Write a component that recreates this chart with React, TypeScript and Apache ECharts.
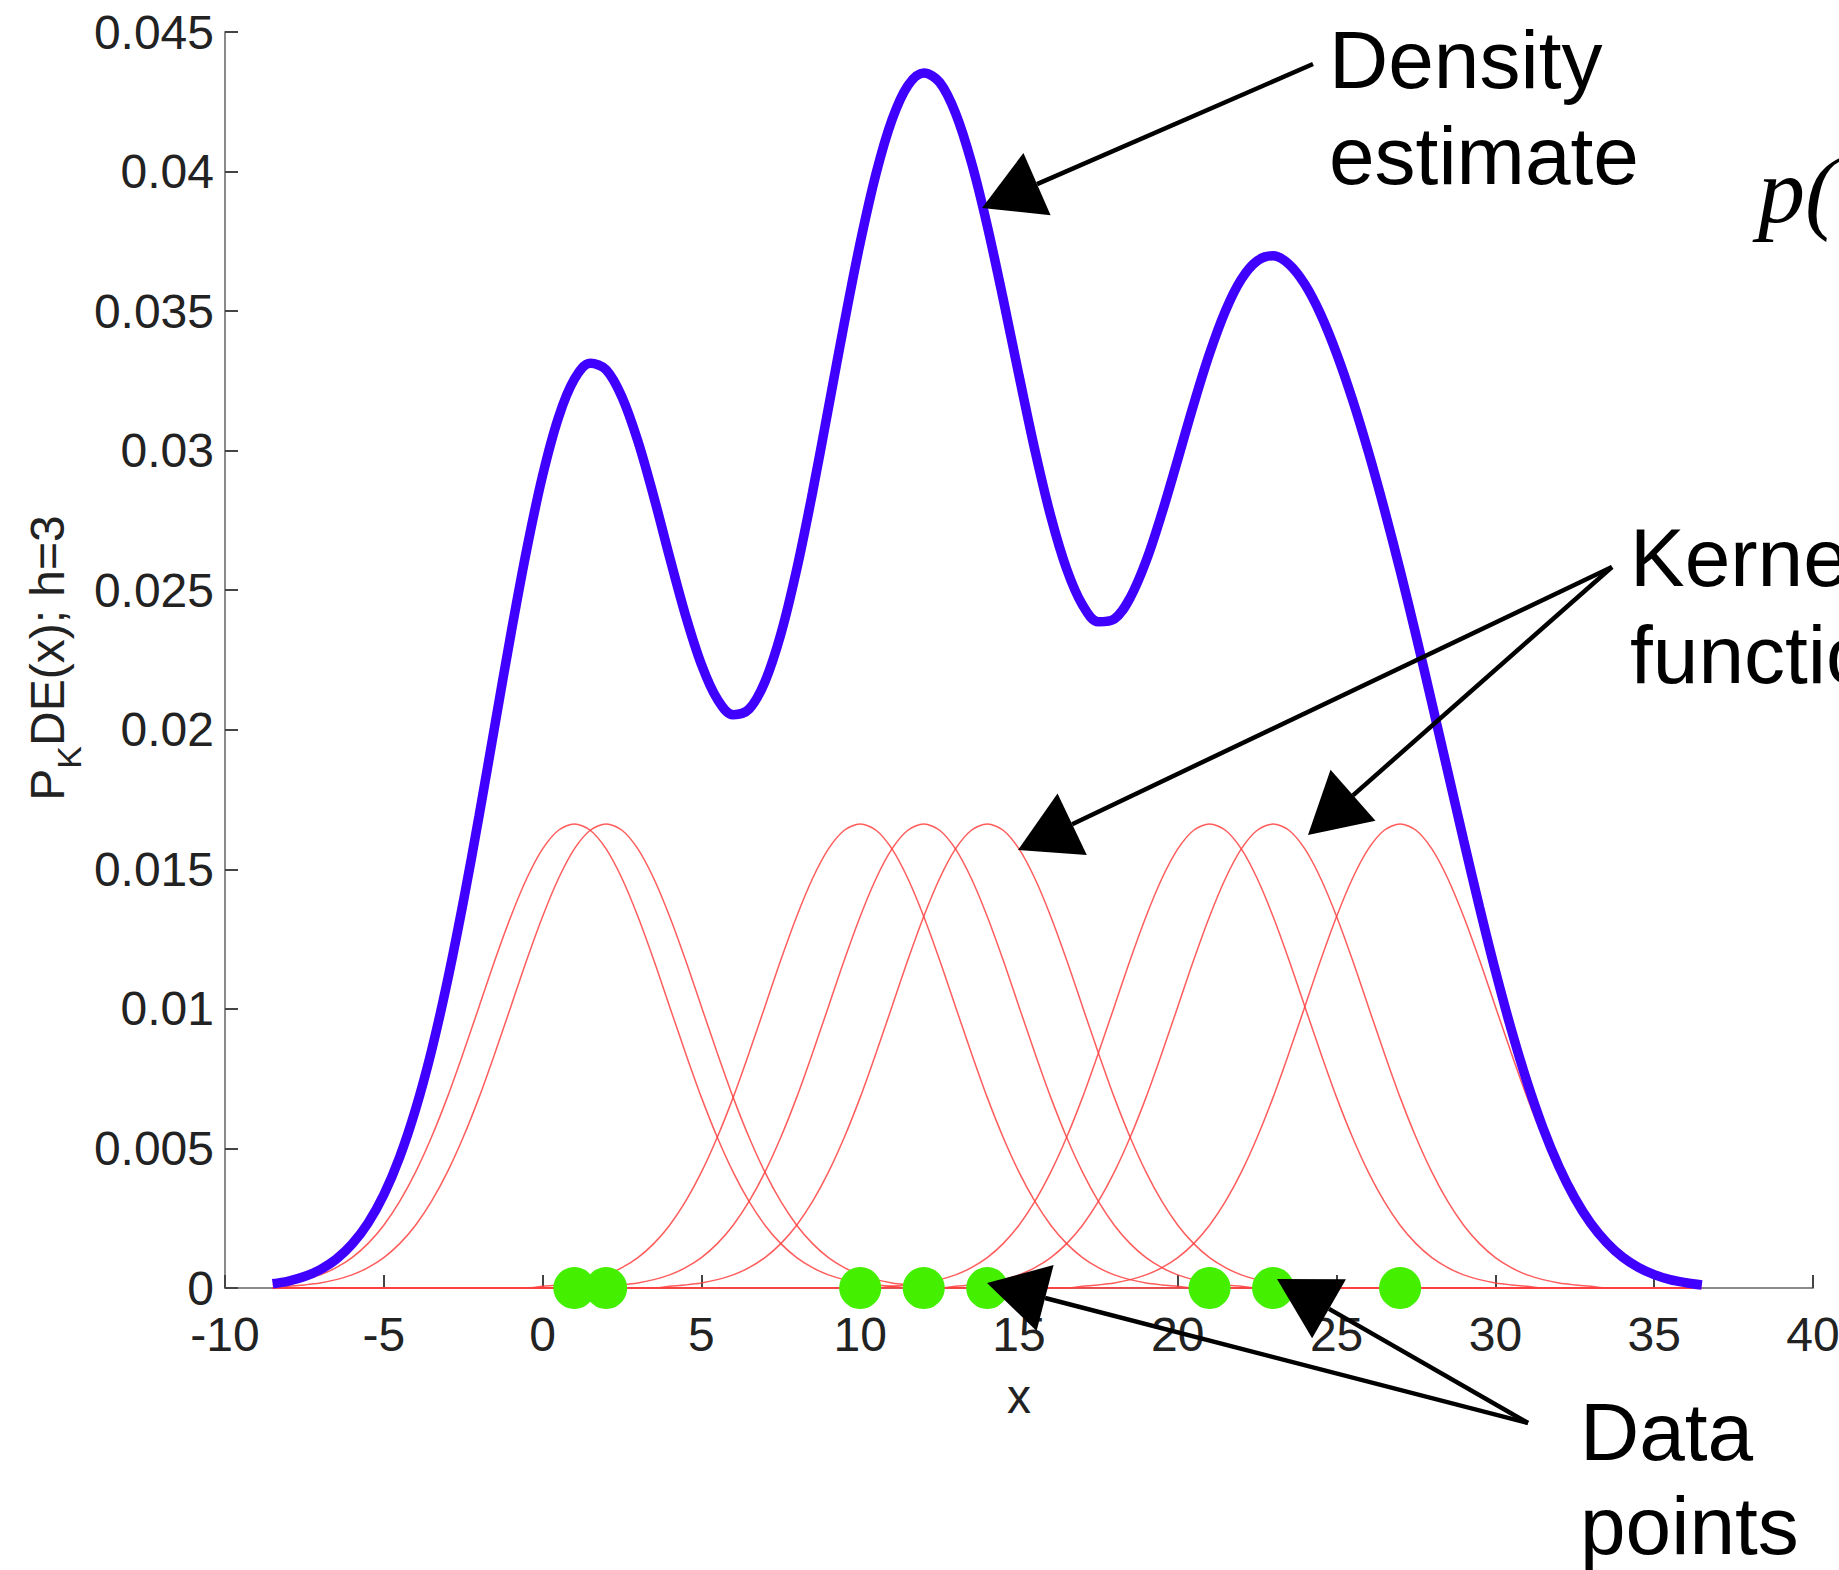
import React, { useEffect, useRef } from "react";
import * as echarts from "echarts";

// Data point locations (green dots)
const dataPoints = [1, 2, 10, 12, 14, 21, 23, 27];

// Sampling of the curves along x
const sampleStart = -8.5;
const sampleStep = 0.5;

// Density estimate (blue curve), read at x = -8.5, -8, ..., 36.5
const densityEstimate = [
  0.00015, 0.00025, 0.00041, 0.00066, 0.00103, 0.00157, 0.00232, 0.00334, 0.00469,
  0.0064, 0.00849, 0.01098, 0.01382, 0.01692, 0.02018, 0.02342, 0.02646, 0.02911,
  0.03119, 0.03256, 0.03313, 0.0329, 0.03192, 0.03034, 0.02835, 0.02618, 0.0241,
  0.02234, 0.0211, 0.02054, 0.02074, 0.02172, 0.02342, 0.02574, 0.02851, 0.03153,
  0.03458, 0.03745, 0.03993, 0.04185, 0.04308, 0.04353, 0.0432, 0.0421, 0.04034,
  0.03806, 0.03544, 0.03269, 0.03002, 0.02765, 0.02576, 0.02447, 0.02387, 0.02397,
  0.02473, 0.02604, 0.02776, 0.02969, 0.03166, 0.03348, 0.03501, 0.03614, 0.0368,
  0.03698, 0.03668, 0.03596, 0.03488, 0.03348, 0.03183, 0.02996, 0.02791, 0.02571,
  0.02338, 0.02096, 0.0185, 0.01604, 0.01364, 0.01136, 0.00926, 0.00737, 0.00573,
  0.00435, 0.00322, 0.00232, 0.00163, 0.00111, 0.00074, 0.00048, 0.0003, 0.00019,
  0.00011,
];

// Height of one red kernel at distance 0, 0.5, 1, ... 10 from its data point
const kernelShape = [
  0.01662, 0.0164, 0.01573, 0.01467, 0.01331, 0.01175, 0.01008, 0.00842, 0.00683,
  0.0054, 0.00415, 0.0031, 0.00225, 0.00159, 0.00109, 0.00073, 0.00047, 0.0003,
  0.00018, 0.00011, 0.00006,
];

// Axes
const xMin = -10;
const xMax = 40;
const xInterval = 5;
const yMin = 0;
const yMax = 0.045;
const yInterval = 0.005;

const SANS = '"Liberation Sans", Arial, sans-serif';

function arrow(sx: number, sy: number, tx: number, ty: number) {
  const headLen = 60;
  const halfW = 34;
  const dx = sx - tx;
  const dy = sy - ty;
  const len = Math.sqrt(dx * dx + dy * dy);
  const ux = dx / len;
  const uy = dy / len;
  const bx = tx + ux * headLen;
  const by = ty + uy * headLen;
  const px = -uy;
  const py = ux;
  return [
    {
      type: "line",
      z: 100,
      shape: { x1: sx, y1: sy, x2: bx, y2: by },
      style: { stroke: "#000", lineWidth: 4.5 },
    },
    {
      type: "polygon",
      z: 101,
      shape: {
        points: [
          [tx, ty],
          [bx + px * halfW, by + py * halfW],
          [bx - px * halfW, by - py * halfW],
        ],
      },
      style: { fill: "#000" },
    },
  ];
}

function label(text: string, x: number, y: number) {
  return {
    type: "text",
    z: 100,
    x,
    y,
    style: {
      text,
      fontSize: 82,
      fontFamily: SANS,
      fill: "#000",
      align: "left",
      verticalAlign: "middle",
    },
  };
}

export default function App() {
  const ref = useRef<HTMLDivElement>(null);

  useEffect(() => {
    if (!ref.current) return;
    const chart = echarts.init(ref.current, null, { renderer: "svg" });

    const xs = densityEstimate.map((_, i) => sampleStart + i * sampleStep);
    const densityData = xs.map((x, i) => [x, densityEstimate[i]]);

    const kernelSeries = dataPoints.map((c, idx) => ({
      name: "kernel" + idx,
      type: "line",
      data: xs.map((x) => {
        const k = Math.round(Math.abs(x - c) / sampleStep);
        return [x, k < kernelShape.length ? kernelShape[k] : 0];
      }),
      showSymbol: false,
      smooth: 0.3,
      lineStyle: { color: "#ff4040", width: 1.5, opacity: 0.85 },
      z: 2,
    }));

    const option: any = {
      animation: false,
      backgroundColor: "#fff",
      grid: {
        left: 225,
        top: 32,
        width: 1588,
        height: 1256,
        containLabel: false,
        outerBoundsMode: "none",
      },
      xAxis: {
        type: "value",
        min: xMin,
        max: xMax,
        interval: xInterval,
        name: "x",
        nameLocation: "middle",
        nameGap: 84,
        nameTextStyle: { fontSize: 48, fontFamily: SANS, color: "#222" },
        axisLine: { show: true, onZero: false, lineStyle: { color: "#8a8a8a", width: 2 } },
        axisTick: { show: true, inside: true, length: 13, lineStyle: { color: "#444", width: 2 } },
        axisLabel: { fontSize: 48, fontFamily: SANS, color: "#222", margin: 24, lineHeight: 44 },
        splitLine: { show: false },
      },
      yAxis: {
        type: "value",
        min: yMin,
        max: yMax,
        interval: yInterval,
        axisLine: { show: true, onZero: false, lineStyle: { color: "#8a8a8a", width: 2 } },
        axisTick: { show: true, inside: true, length: 13, lineStyle: { color: "#444", width: 2 } },
        axisLabel: {
          fontSize: 48,
          fontFamily: SANS,
          color: "#222",
          margin: 11,
          lineHeight: 40,
          formatter: (v: number) => String(Number(v.toFixed(3))),
        },
        splitLine: { show: false },
      },
      series: [
        ...kernelSeries,
        {
          name: "Density estimate",
          type: "line",
          data: densityData,
          showSymbol: false,
          smooth: 0.35,
          lineStyle: { color: "#4000ff", width: 9.5 },
          z: 3,
        },
        {
          name: "Data points",
          type: "scatter",
          data: dataPoints.map((p) => [p, 0]),
          symbol: "circle",
          symbolSize: 42,
          itemStyle: { color: "#44f000", opacity: 1 },
          z: 4,
        },
      ],
      graphic: [
        // y axis title with subscript K
        {
          type: "text",
          z: 100,
          x: 47,
          y: 658,
          rotation: Math.PI / 2,
          style: {
            text: "{a|P}{b|K}{a|DE(x); h=3}",
            align: "center",
            verticalAlign: "middle",
            fill: "#222",
            rich: {
              a: { fontSize: 48, fontFamily: SANS, fill: "#222", lineHeight: 78, verticalAlign: "middle" },
              b: { fontSize: 34, fontFamily: SANS, fill: "#222", lineHeight: 34, verticalAlign: "bottom" },
            },
          },
        },
        label("Density", 1329, 59),
        label("estimate", 1329, 155),
        label("Kernel", 1630, 557),
        label("functions", 1630, 654),
        label("Data", 1580, 1431),
        label("points", 1580, 1525),
        {
          type: "text",
          z: 100,
          x: 1758,
          y: 190,
          style: {
            text: "p(",
            fontSize: 94,
            fontStyle: "italic",
            fontFamily: '"Liberation Serif", "DejaVu Serif", serif',
            fill: "#000",
            align: "left",
            verticalAlign: "middle",
          },
        },
        ...arrow(1313, 64, 982, 208),
        ...arrow(1612, 567, 1018, 850),
        ...arrow(1612, 567, 1308, 835),
        ...arrow(1528, 1423, 987, 1283),
        ...arrow(1528, 1423, 1277, 1279),
      ],
    };

    chart.setOption(option);
    return () => chart.dispose();
  }, []);

  return (
    <div
      ref={ref}
      style={{ position: "absolute", left: 0, top: 0, width: 1839, height: 1570, background: "#fff" }}
    />
  );
}
